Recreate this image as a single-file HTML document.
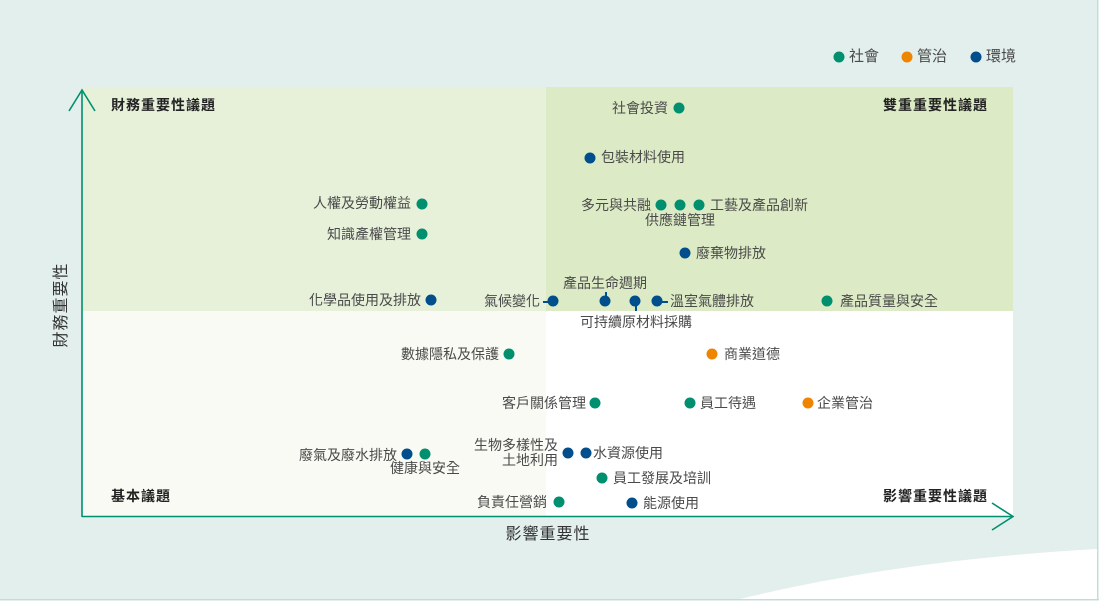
<!DOCTYPE html>
<html><head><meta charset="utf-8"><style>
*{margin:0;padding:0;box-sizing:border-box}
body{width:1099px;height:601px;overflow:hidden;background:#e2efec;position:relative;font-family:"Liberation Sans","Noto Sans CJK TC",sans-serif;}
.d{position:absolute;width:11px;height:11px;border-radius:50%;transform:translate(-50%,-50%)}
.g{background:#00906f}.b{background:#004f8c}.o{background:#ee8400}
.t{position:absolute;font-size:14px;color:#4a4a4a;line-height:16px;white-space:nowrap;transform:translateY(-50%)}
.c{transform:translate(-50%,-50%);text-align:center}
.h{position:absolute;font-size:14px;letter-spacing:1px;font-weight:bold;color:#222;line-height:16px;white-space:nowrap;transform:translateY(-50%)}
.ln{position:absolute;background:#004f8c}
</style></head><body>
<svg width="1099" height="601" style="position:absolute;left:0;top:0">
<rect x="82" y="87" width="464" height="224" fill="#e7f1da"/>
<rect x="546" y="87" width="467" height="224" fill="#dcebc5"/>
<rect x="82" y="311" width="464" height="206" fill="#f8faf3"/>
<rect x="546" y="311" width="467" height="206" fill="#ffffff"/>
<path d="M740 599 Q900 560 1097 549 L1097 599 Z" fill="#fff"/>
<line x1="1097.5" y1="0" x2="1097.5" y2="599" stroke="#cfd6d4" stroke-width="1"/>
<line x1="0" y1="599.5" x2="1099" y2="599.5" stroke="#cfd6d4" stroke-width="1"/>
<g stroke="#00906f" stroke-width="1.6" fill="none">
<line x1="82" y1="90" x2="82" y2="517"/>
<polyline points="69,111 82,90 95,111"/>
<line x1="82" y1="516.5" x2="1013" y2="516.5"/>
<polyline points="992,503 1013,516.5 992,530"/>
</g>
</svg>
<div class="h" style="left:111px;top:105px">財務重要性議題</div>
<div class="h" style="right:111px;top:105px">雙重重要性議題</div>
<div class="h" style="left:111px;top:496px">基本議題</div>
<div class="h" style="right:111px;top:496px">影響重要性議題</div>
<div class="t c" style="left:548px;top:535px;font-size:16px;letter-spacing:1px;color:#333">影響重要性</div>
<div class="t" style="left:62px;top:305px;font-size:16px;letter-spacing:1px;color:#333;transform:translate(-50%,-50%) rotate(-90deg)">財務重要性</div>

<div class="d g" style="left:839px;top:57px"></div><div class="t" style="left:849px;top:57px;font-size:15px">社會</div>
<div class="d o" style="left:907px;top:57px"></div><div class="t" style="left:917px;top:57px;font-size:15px">管治</div>
<div class="d b" style="left:976px;top:57px"></div><div class="t" style="left:986px;top:57px;font-size:15px">環境</div>

<div class="d g" style="left:679px;top:108px"></div><div class="t" style="right:431px;top:108px">社會投資</div>
<div class="d b" style="left:590px;top:158px"></div><div class="t" style="left:601px;top:157px">包裝材料使用</div>
<div class="d g" style="left:422px;top:204px"></div><div class="t" style="right:688px;top:203px">人權及勞動權益</div>
<div class="d g" style="left:422px;top:234px"></div><div class="t" style="right:688px;top:234px">知識產權管理</div>
<div class="t" style="right:448px;top:205px">多元與共融</div>
<div class="d g" style="left:661px;top:205px"></div><div class="d g" style="left:680px;top:205px"></div><div class="d g" style="left:699px;top:205px"></div>
<div class="t" style="left:710px;top:205px">工藝及產品創新</div>
<div class="t c" style="left:680px;top:220px">供應鏈管理</div>
<div class="d b" style="left:685px;top:253px"></div><div class="t" style="left:696px;top:253px">廢棄物排放</div>
<div class="d b" style="left:431px;top:300px"></div><div class="t" style="right:678px;top:300px">化學品使用及排放</div>
<div class="t" style="right:559px;top:301px">氣候變化</div>
<div class="ln" style="left:543px;top:301px;width:7px;height:1.5px"></div>
<div class="d b" style="left:553px;top:301px"></div>
<div class="t c" style="left:605px;top:283px">產品生命週期</div>
<div class="ln" style="left:605px;top:292px;width:1.5px;height:8px"></div>
<div class="d b" style="left:605px;top:301px"></div>
<div class="ln" style="left:635px;top:302px;width:1.5px;height:9px"></div>
<div class="d b" style="left:635px;top:301px"></div>
<div class="t c" style="left:636px;top:322px">可持續原材料採購</div>
<div class="d b" style="left:657px;top:301px"></div>
<div class="ln" style="left:660px;top:301px;width:8px;height:1.5px"></div>
<div class="t" style="left:670px;top:301px">溫室氣體排放</div>
<div class="d g" style="left:827px;top:301px"></div><div class="t" style="left:840px;top:301px">產品質量與安全</div>
<div class="d g" style="left:509px;top:354px"></div><div class="t" style="right:600px;top:354px">數據隱私及保護</div>
<div class="d o" style="left:712px;top:354px"></div><div class="t" style="left:724px;top:354px">商業道德</div>
<div class="d g" style="left:595px;top:403px"></div><div class="t" style="right:513px;top:403px">客戶關係管理</div>
<div class="d g" style="left:690px;top:403px"></div><div class="t" style="left:700px;top:403px">員工待遇</div>
<div class="d o" style="left:808px;top:403px"></div><div class="t" style="left:817px;top:403px">企業管治</div>
<div class="d b" style="left:407px;top:454px"></div><div class="t" style="right:702px;top:455px">廢氣及廢水排放</div>
<div class="d g" style="left:425px;top:454px"></div><div class="t c" style="left:425px;top:468px">健康與安全</div>
<div class="t" style="right:541px;top:445px">生物多樣性及</div>
<div class="t" style="right:541px;top:460px">土地利用</div>
<div class="d b" style="left:568px;top:453px"></div><div class="d b" style="left:586px;top:453px"></div>
<div class="t" style="left:593px;top:453px">水資源使用</div>
<div class="d g" style="left:602px;top:478px"></div><div class="t" style="left:613px;top:478px">員工發展及培訓</div>
<div class="t" style="right:552px;top:502px">負責任營銷</div><div class="d g" style="left:559px;top:502px"></div>
<div class="d b" style="left:632px;top:503px"></div><div class="t" style="left:643px;top:503px">能源使用</div>
</body></html>
